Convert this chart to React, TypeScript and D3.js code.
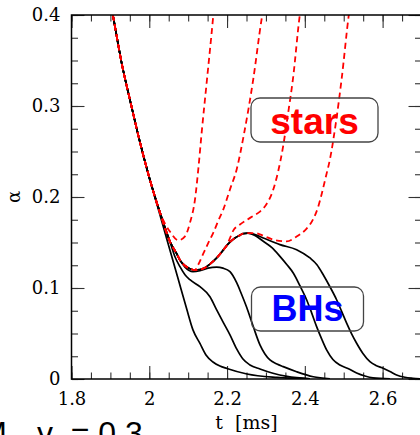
import React, { useRef, useEffect } from "react";
import * as d3 from "d3";

type Pt = [number, number];

// shared descent, all nine runs
const headTrack: Pt[] = [
  [1.9015, 0.411], [1.9059, 0.4011], [1.929, 0.3471], [1.953, 0.3019],
  [1.9761, 0.2601], [1.9992, 0.2226],
];
const trackA: Pt[] = [[2.0275, 0.1829]];
const trackB: Pt[] = [[2.0532, 0.151]];
const trackC: Pt[] = [[2.0704, 0.1377], [2.0789, 0.1306]];
const trackD: Pt[] = [[2.0918, 0.1245], [2.1046, 0.1212], [2.1175, 0.1198]];
const trackE: Pt[] = [
  [2.1303, 0.1203], [2.1432, 0.1223], [2.156, 0.1262], [2.174, 0.1333],
  [2.1869, 0.1399], [2.199, 0.1466],
];
const trackF: Pt[] = [
  [2.2075, 0.1504], [2.2203, 0.155], [2.2332, 0.1581], [2.2416, 0.1598], [2.2537, 0.1603],
];

// black holes
const bh1Tail: Pt[] = [
  [2.0147, 0.1994], [2.0352, 0.1686], [2.0532, 0.1416], [2.0738, 0.1107],
  [2.0961, 0.0771], [2.1123, 0.054], [2.1303, 0.0391], [2.1458, 0.0264],
  [2.1638, 0.0187], [2.1817, 0.0143], [2.1997, 0.0116], [2.2512, 0.0055],
  [2.3283, 0.0017], [2.4131, 0.0002],
];
const bh2Tail: Pt[] = [
  [2.0661, 0.1344], [2.0789, 0.1234], [2.0918, 0.1146], [2.1046, 0.1091],
  [2.1303, 0.1014], [2.156, 0.0904], [2.1733, 0.076], [2.1895, 0.0628],
  [2.2075, 0.0485], [2.2247, 0.0331], [2.2409, 0.022], [2.2589, 0.0154],
  [2.2846, 0.011], [2.318, 0.0063], [2.354, 0.0028], [2.4131, 0.0002],
];
const bh3Tail: Pt[] = [
  [2.0918, 0.1229], [2.1123, 0.1179], [2.1303, 0.119], [2.1509, 0.1218],
  [2.1733, 0.1229], [2.1895, 0.1218], [2.2075, 0.1179], [2.2247, 0.1058],
  [2.2357, 0.0948], [2.2504, 0.0788], [2.2674, 0.0576], [2.2846, 0.0375],
  [2.2974, 0.0275], [2.3103, 0.0209], [2.3283, 0.0165], [2.3445, 0.0136],
  [2.3789, 0.008], [2.4216, 0.0025], [2.4645, 0.0003],
];
const bh4Tail: Pt[] = [
  [2.2717, 0.1576], [2.2931, 0.1513], [2.3154, 0.1443], [2.336, 0.1348],
  [2.354, 0.1256], [2.3702, 0.1165], [2.3874, 0.1025], [2.4046, 0.0871],
  [2.4175, 0.0727], [2.4303, 0.0576], [2.4432, 0.0441], [2.456, 0.032],
  [2.4722, 0.0215], [2.4902, 0.0154], [2.5108, 0.0116], [2.5332, 0.0066],
  [2.5545, 0.0033], [2.5751, 0.0013], [2.6188, 0.0002],
];
const bh5Tail: Pt[] = [
  [2.2717, 0.1587], [2.2931, 0.155], [2.336, 0.1477], [2.3789, 0.1421],
  [2.4131, 0.133], [2.4311, 0.1256], [2.4473, 0.1146], [2.4645, 0.1014],
  [2.4817, 0.0871], [2.4946, 0.0744], [2.5075, 0.0614], [2.5203, 0.0496],
  [2.5332, 0.0393], [2.5494, 0.0281], [2.5674, 0.0191], [2.5828, 0.0149],
  [2.6015, 0.0118], [2.6188, 0.0083], [2.636, 0.0044], [2.6573, 0.0019],
  [2.6779, 0.0008], [2.701, 0.0001],
];

// stars
const star1Tail: Pt[] = [
  [2.0404, 0.1708], [2.0532, 0.162], [2.0746, 0.1524], [2.0918, 0.1568],
  [2.1046, 0.1716], [2.1175, 0.1972], [2.1265, 0.2325], [2.1347, 0.2707],
  [2.1476, 0.3258], [2.1645, 0.3992], [2.1663, 0.4077],
];
const star2Tail: Pt[] = [
  [2.1252, 0.1251], [2.1388, 0.1377], [2.1509, 0.1488], [2.1645, 0.1606],
  [2.1766, 0.173], [2.1902, 0.1862], [2.2075, 0.2083], [2.2247, 0.2303],
  [2.2434, 0.2689], [2.2674, 0.3295], [2.2889, 0.3956], [2.2923, 0.4044],
];
const star3Tail: Pt[] = [
  [2.2075, 0.1548], [2.2159, 0.1631], [2.2332, 0.1697], [2.2504, 0.1747],
  [2.2666, 0.1791], [2.2846, 0.184], [2.3, 0.1912], [2.318, 0.2072],
  [2.3308, 0.227], [2.3437, 0.2545], [2.3566, 0.2909], [2.3694, 0.3295],
  [2.3874, 0.4011], [2.39, 0.4088],
];
const star4Tail: Pt[] = [
  [2.2717, 0.1603], [2.2897, 0.1581], [2.3018, 0.1559], [2.3257, 0.1524],
  [2.3532, 0.1513], [2.3789, 0.1565], [2.4046, 0.1653], [2.4208, 0.1752],
  [2.4337, 0.1884], [2.444, 0.2044], [2.4542, 0.2226], [2.4645, 0.2413],
  [2.4799, 0.2818], [2.4946, 0.3295], [2.5134, 0.4011], [2.5159, 0.4088],
];

const xTicks = [1.8, 2, 2.2, 2.4, 2.6];
const xTickLabels = ["1.8", "2", "2.2", "2.4", "2.6"];
const yTicks = [0, 0.1, 0.2, 0.3, 0.4];
const yTickLabels = ["0", "0.1", "0.2", "0.3", "0.4"];

export default function App() {
  const svgRef = useRef<SVGSVGElement>(null);

  useEffect(() => {
    if (!svgRef.current) return;
    const svg = d3.select(svgRef.current);
    svg.selectAll("*").remove();

    const left = 71.5, right = 421.5, top = 15, bottom = 379;
    const x = d3.scaleLinear().domain([1.8, 2.7]).range([left, right]);
    const y = d3.scaleLinear().domain([0, 0.4]).range([bottom, top]);

    const serif = "'DejaVu Serif', serif";
    const sans = "'Liberation Sans', Arial, sans-serif";

    svg.append("defs").append("clipPath").attr("id", "plotClip")
      .append("rect").attr("x", left).attr("y", top)
      .attr("width", right - left).attr("height", bottom - top);

    // minor tick positions
    const xMinor = d3.range(0, 19).map((i) => 1.8 + i * 0.05);
    const yMinor = d3.range(0, 17).map((i) => i * 0.025);

    const styleAxis = (g: any) => {
      g.select(".domain").remove();
      g.selectAll("line").attr("stroke", "#333").attr("stroke-width", 1.1);
      g.selectAll("text").style("font-family", serif).style("font-size", "18px").attr("fill", "#000");
    };

    svg.append("g").attr("transform", `translate(0,${bottom})`)
      .call(d3.axisBottom(x).tickValues(xMinor).tickSize(-6.5).tickSizeOuter(0).tickFormat(() => ""))
      .call(styleAxis);
    svg.append("g").attr("transform", `translate(0,${bottom})`)
      .call(d3.axisBottom(x).tickValues(xTicks).tickSize(-13).tickSizeOuter(0).tickPadding(13)
        .tickFormat((_d, i) => xTickLabels[i]))
      .call(styleAxis);
    svg.append("g").attr("transform", `translate(0,${top})`)
      .call(d3.axisTop(x).tickValues(xMinor).tickSize(-6.5).tickSizeOuter(0).tickFormat(() => ""))
      .call(styleAxis);
    svg.append("g").attr("transform", `translate(0,${top})`)
      .call(d3.axisTop(x).tickValues(xTicks).tickSize(-13).tickSizeOuter(0).tickFormat(() => ""))
      .call(styleAxis);

    svg.append("g").attr("transform", `translate(${left},0)`)
      .call(d3.axisLeft(y).tickValues(yMinor).tickSize(-6.5).tickSizeOuter(0).tickFormat(() => ""))
      .call(styleAxis);
    svg.append("g").attr("transform", `translate(${left},0)`)
      .call(d3.axisLeft(y).tickValues(yTicks).tickSize(-13).tickSizeOuter(0).tickPadding(11)
        .tickFormat((_d, i) => yTickLabels[i]))
      .call(styleAxis);
    svg.append("g").attr("transform", `translate(${right},0)`)
      .call(d3.axisRight(y).tickValues(yMinor).tickSize(-6.5).tickSizeOuter(0).tickFormat(() => ""))
      .call(styleAxis);
    svg.append("g").attr("transform", `translate(${right},0)`)
      .call(d3.axisRight(y).tickValues(yTicks).tickSize(-13).tickSizeOuter(0).tickFormat(() => ""))
      .call(styleAxis);

    // curves
    const line = d3.line<Pt>().x((d) => x(d[0])).y((d) => y(d[1])).curve(d3.curveMonotoneX);
    const plot = svg.append("g").attr("clip-path", "url(#plotClip)");

    const common = [...headTrack, ...trackA, ...trackB, ...trackC];
    const blackCurves: Pt[][] = [
      [...headTrack, ...bh1Tail],
      [...headTrack, ...trackA, ...trackB, ...bh2Tail],
      [...common, ...bh3Tail],
      [...common, ...trackD, ...trackE, ...trackF, ...bh4Tail],
      [...common, ...trackD, ...trackE, ...trackF, ...bh5Tail],
    ];
    const redCurves: Pt[][] = [
      [...headTrack, ...trackA, ...star1Tail],
      [...common, ...trackD, ...star2Tail],
      [...common, ...trackD, ...trackE, ...star3Tail],
      [...common, ...trackD, ...trackE, ...trackF, ...star4Tail],
    ];

    blackCurves.forEach((c) => {
      plot.append("path").attr("d", line(c)).attr("fill", "none")
        .attr("stroke", "#000").attr("stroke-width", 1.7);
    });
    redCurves.forEach((c) => {
      plot.append("path").attr("d", line(c)).attr("fill", "none")
        .attr("stroke", "#ff0000").attr("stroke-width", 1.8)
        .attr("stroke-dasharray", "6,4");
    });

    // frame
    svg.append("rect").attr("x", left).attr("y", top)
      .attr("width", right - left).attr("height", bottom - top)
      .attr("fill", "none").attr("stroke", "#000").attr("stroke-width", 1.5);

    // label boxes
    svg.append("rect").attr("x", 251).attr("y", 98).attr("width", 127).attr("height", 44)
      .attr("rx", 9).attr("fill", "none").attr("stroke", "#444").attr("stroke-width", 1.3);
    svg.append("text").attr("x", 314.5).attr("y", 133.5).attr("text-anchor", "middle")
      .style("font-family", sans).style("font-size", "37px").style("font-weight", "bold")
      .attr("fill", "#ff0000").text("stars");

    svg.append("rect").attr("x", 251.5).attr("y", 287).attr("width", 112).attr("height", 44)
      .attr("rx", 9).attr("fill", "none").attr("stroke", "#444").attr("stroke-width", 1.3);
    svg.append("text").attr("x", 307.5).attr("y", 320.5).attr("text-anchor", "middle")
      .style("font-family", sans).style("font-size", "36px").style("font-weight", "bold")
      .attr("fill", "#0000ff").text("BHs");

    // axis titles
    svg.append("text").attr("x", (left + right) / 2).attr("y", 429).attr("text-anchor", "middle")
      .style("font-family", serif).style("font-size", "19px").style("white-space", "pre")
      .text("t  [ms]");
    svg.append("text").attr("transform", `translate(20,${(top + bottom) / 2}) rotate(-90)`)
      .attr("text-anchor", "middle")
      .style("font-family", serif).style("font-size", "18px").text("α");

    // caption cut by the page edge
    svg.append("text").attr("x", 7).attr("y", 444).attr("text-anchor", "end")
      .style("font-family", sans).style("font-size", "32px").text("M");
    svg.append("text").attr("x", 37).attr("y", 444)
      .style("font-family", sans).style("font-size", "32px").style("white-space", "pre")
      .text("γ  = 0.3");
  }, []);

  return (
    <svg
      ref={svgRef}
      width={420}
      height={435}
      viewBox="0 0 420 435"
      style={{ position: "absolute", left: 0, top: 0, display: "block", background: "#fff" }}
    />
  );
}
